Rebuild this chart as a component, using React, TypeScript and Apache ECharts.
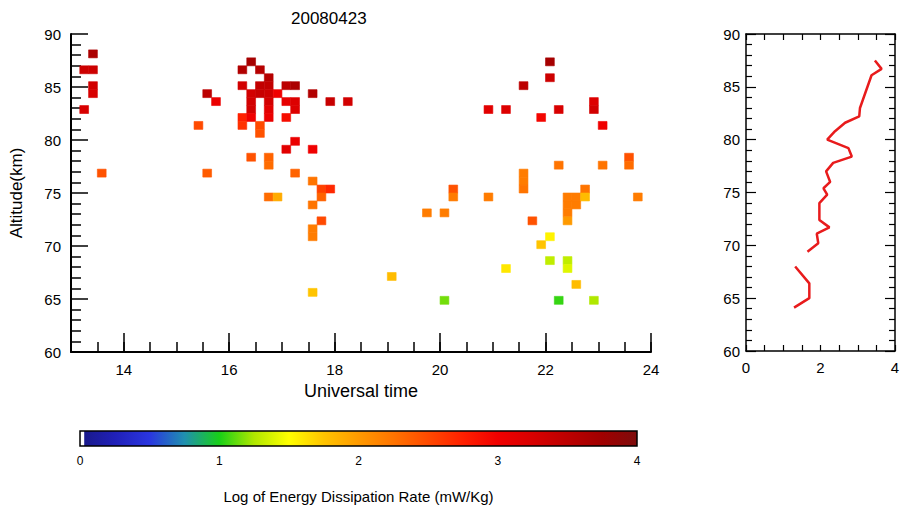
import React, { useEffect, useRef } from "react";
import * as echarts from "echarts";

const FONT = "'Liberation Sans', Arial, Helvetica, sans-serif";

// Turbulent energy dissipation cells, 10-min x 0.75-km bins:
// [UT bin centre (h), altitude bin centre (km), log10 eps (mW/kg)]
const cellsBefore19UT: [number, number, number][] = [
  [13.417, 88.125, 3.65],
  [13.25, 86.625, 3.35],
  [13.417, 86.625, 3.35],
  [13.417, 85.125, 3.3],
  [13.417, 84.375, 3.25],
  [13.25, 82.875, 3.25],
  [13.583, 76.875, 2.45],
  [15.417, 81.375, 2.5],
  [15.583, 84.375, 3.5],
  [15.75, 83.625, 3.05],
  [15.583, 76.875, 2.4],
  [16.417, 87.375, 3.7],
  [16.25, 86.625, 3.6],
  [16.583, 86.625, 3.55],
  [16.75, 85.875, 3.55],
  [16.25, 85.125, 3.3],
  [16.583, 85.125, 3.45],
  [16.75, 85.125, 3.45],
  [17.083, 85.125, 3.5],
  [17.25, 85.125, 3.65],
  [16.417, 84.375, 3.3],
  [16.583, 84.375, 3.4],
  [16.75, 84.375, 3.35],
  [16.917, 84.375, 3.0],
  [17.583, 84.375, 3.6],
  [16.417, 83.625, 3.3],
  [16.75, 83.625, 3.3],
  [17.083, 83.625, 3.1],
  [17.25, 83.625, 3.2],
  [17.917, 83.625, 3.4],
  [18.25, 83.625, 3.3],
  [16.417, 82.875, 3.3],
  [16.75, 82.875, 3.15],
  [17.25, 82.875, 3.2],
  [16.25, 82.125, 2.75],
  [16.417, 82.125, 3.0],
  [16.75, 82.125, 3.05],
  [17.083, 82.125, 2.9],
  [16.25, 81.375, 2.65],
  [16.583, 81.375, 2.5],
  [16.583, 80.625, 2.45],
  [17.25, 79.875, 3.05],
  [17.083, 79.125, 3.15],
  [17.583, 79.125, 3.0],
  [16.417, 78.375, 2.45],
  [16.75, 78.375, 2.35],
  [16.75, 77.625, 2.3],
  [17.25, 76.875, 2.35],
  [17.583, 76.125, 2.25],
  [17.75, 75.375, 2.55],
  [17.917, 75.375, 2.7],
  [17.75, 74.625, 2.35],
  [16.75, 74.625, 2.3],
  [16.917, 74.625, 1.9],
  [17.583, 73.875, 2.25],
  [17.75, 72.375, 2.5],
  [17.583, 71.625, 2.2],
  [17.583, 70.875, 2.2],
  [17.583, 65.625, 1.75],
];

const cellsAfter19UT: [number, number, number][] = [
  [19.083, 67.125, 1.8],
  [19.75, 73.125, 2.2],
  [20.083, 73.125, 2.2],
  [20.083, 64.875, 1.15],
  [20.25, 75.375, 2.45],
  [20.25, 74.625, 2.2],
  [20.917, 82.875, 3.15],
  [20.917, 74.625, 2.2],
  [21.25, 82.875, 3.2],
  [21.25, 67.875, 1.6],
  [21.583, 85.125, 3.5],
  [21.583, 76.875, 2.2],
  [21.583, 76.125, 2.2],
  [21.583, 75.375, 2.25],
  [21.75, 72.375, 2.45],
  [21.917, 82.125, 2.95],
  [21.917, 70.125, 1.75],
  [22.083, 87.375, 3.7],
  [22.083, 85.875, 3.35],
  [22.083, 70.875, 1.55],
  [22.083, 68.625, 1.3],
  [22.25, 82.875, 3.25],
  [22.25, 77.625, 2.25],
  [22.25, 64.875, 1.05],
  [22.417, 74.625, 2.2],
  [22.417, 73.875, 2.2],
  [22.417, 73.125, 2.2],
  [22.417, 72.375, 2.0],
  [22.417, 68.625, 1.3],
  [22.417, 67.875, 1.4],
  [22.583, 74.625, 2.2],
  [22.583, 73.875, 2.2],
  [22.583, 66.375, 1.8],
  [22.75, 75.375, 2.25],
  [22.75, 74.625, 1.8],
  [22.917, 83.625, 3.2],
  [22.917, 82.875, 3.3],
  [22.917, 64.875, 1.25],
  [23.083, 81.375, 3.0],
  [23.083, 77.625, 2.25],
  [23.583, 78.375, 2.45],
  [23.583, 77.625, 2.3],
  [23.75, 74.625, 2.2],
];

// Bin size of the cells
const BIN_HOURS = 1 / 6;
const BIN_KM = 0.75;

// Mean profile: [log10 eps, altitude km]
const profileUpper: [number, number][] = [
  [3.46, 87.5], [3.64, 86.7], [3.37, 86.1], [3.06, 83.0], [3.04, 82.2],
  [2.66, 81.6], [2.39, 80.8], [2.18, 80.0], [2.75, 79.2], [2.84, 78.4],
  [2.34, 77.8], [2.15, 77.0], [2.26, 76.0], [2.08, 75.4], [2.18, 74.8],
  [1.97, 74.0], [1.97, 72.4], [2.24, 71.7], [1.9, 71.1], [1.94, 70.2],
  [1.65, 69.4],
];
const profileLower: [number, number][] = [
  [1.32, 68.0], [1.7, 66.4], [1.7, 65.0], [1.29, 64.1],
];

const utLabels = [14, 16, 18, 20, 22, 24];
const profileLabels = [0, 2, 4];

// Colour table for log10 eps, evenly spaced from 0 to 4
const palette = [
  "#1a1a8c", "#2020b8", "#2a36e0", "#2090b0", "#18d018", "#b0e800",
  "#ffff00", "#ffc400", "#ff9a00", "#ff7400", "#ff4a00", "#ff2000",
  "#f00000", "#d80000", "#bc0000", "#a00000", "#7e0c0c",
];

const axisLineBlack = (w: number) => ({ show: true, lineStyle: { color: "#000", width: w } });
const labelStyle = (size: number, margin: number) => ({
  color: "#000",
  fontSize: size,
  fontFamily: FONT,
  margin,
});

export default function App() {
  const ref = useRef<HTMLDivElement>(null);

  useEffect(() => {
    if (!ref.current) return;
    const chart = echarts.init(ref.current, null, { renderer: "svg" });

    const cells = [...cellsBefore19UT, ...cellsAfter19UT];

    const barStops: { offset: number; color: string }[] = [
      { offset: 0, color: "#ffffff" },
      { offset: 0.008, color: "#ffffff" },
      { offset: 0.0081, color: palette[0] },
    ];
    palette.forEach((c, i) => {
      if (i > 0) barStops.push({ offset: i / (palette.length - 1), color: c });
    });

    chart.setOption({
      animation: false,
      backgroundColor: "#fff",
      title: {
        text: "20080423",
        left: 286,
        top: 5,
        textStyle: { fontSize: 17, fontWeight: "normal", color: "#000", fontFamily: FONT },
      },
      grid: [
        { left: 67, top: 34, width: 584, height: 318 },
        { left: 746, top: 34, width: 149, height: 317 },
        { left: 80, top: 431, width: 557, height: 15 },
      ],
      visualMap: {
        type: "continuous",
        show: false,
        min: 0,
        max: 4,
        dimension: 2,
        seriesIndex: 0,
        inRange: { color: palette },
      },
      xAxis: [
        {
          gridIndex: 0,
          type: "value",
          min: 13,
          max: 24,
          interval: 0.5,
          position: "bottom",
          axisLine: { ...axisLineBlack(2), onZero: false },
          axisTick: { inside: true, length: 10, lineStyle: { color: "#000", width: 1.5 } },
          axisLabel: { show: false },
          splitLine: { show: false },
        },
        {
          gridIndex: 0,
          type: "value",
          min: 13,
          max: 24,
          position: "bottom",
          axisLine: { show: false, onZero: false },
          axisTick: {
            inside: true,
            length: 19,
            customValues: utLabels,
            lineStyle: { color: "#000", width: 1.5 },
          },
          axisLabel: { ...labelStyle(15, 10), customValues: utLabels },
          splitLine: { show: false },
          name: "Universal time",
          nameLocation: "middle",
          nameGap: 30,
          nameTextStyle: { color: "#000", fontSize: 18, fontFamily: FONT },
        },
        {
          gridIndex: 1,
          type: "value",
          min: 0,
          max: 4,
          interval: 0.5,
          position: "bottom",
          axisLine: { ...axisLineBlack(1.5), onZero: false },
          axisTick: { inside: true, length: 6, lineStyle: { color: "#000", width: 1.2 } },
          axisLabel: { ...labelStyle(15, 9), customValues: profileLabels },
          splitLine: { show: false },
        },
        {
          gridIndex: 1,
          type: "value",
          min: 0,
          max: 4,
          interval: 0.5,
          position: "top",
          axisLine: { ...axisLineBlack(1.5), onZero: false },
          axisTick: { inside: true, length: 6, lineStyle: { color: "#000", width: 1.2 } },
          axisLabel: { show: false },
          splitLine: { show: false },
        },
        {
          gridIndex: 2,
          type: "value",
          min: 0,
          max: 4,
          interval: 1,
          position: "bottom",
          axisLine: { show: false },
          axisTick: { show: false },
          axisLabel: labelStyle(12, 9),
          splitLine: { show: false },
          name: "Log of Energy Dissipation Rate (mW/Kg)",
          nameLocation: "middle",
          nameGap: 43,
          nameTextStyle: { color: "#000", fontSize: 15, fontFamily: FONT },
        },
      ],
      yAxis: [
        {
          gridIndex: 0,
          type: "value",
          min: 60,
          max: 90,
          interval: 5,
          position: "left",
          axisLine: { ...axisLineBlack(2), onZero: false },
          axisTick: { inside: true, length: 17, lineStyle: { color: "#000", width: 1.5 } },
          minorTick: { show: true, splitNumber: 5, length: 10, lineStyle: { color: "#000", width: 1.5 } },
          axisLabel: labelStyle(15, 10),
          splitLine: { show: false },
          minorSplitLine: { show: false },
          name: "Altitude(km)",
          nameLocation: "middle",
          nameGap: 46,
          nameTextStyle: { color: "#000", fontSize: 17, fontFamily: FONT },
        },
        {
          gridIndex: 1,
          type: "value",
          min: 60,
          max: 90,
          interval: 5,
          position: "left",
          axisLine: { ...axisLineBlack(1.5), onZero: false },
          axisTick: { inside: true, length: 10, lineStyle: { color: "#000", width: 1.2 } },
          minorTick: { show: true, splitNumber: 5, length: 6, lineStyle: { color: "#000", width: 1.2 } },
          axisLabel: labelStyle(15, 6),
          splitLine: { show: false },
          minorSplitLine: { show: false },
        },
        {
          gridIndex: 1,
          type: "value",
          min: 60,
          max: 90,
          interval: 5,
          position: "right",
          axisLine: { ...axisLineBlack(1.5), onZero: false },
          axisTick: { inside: true, length: 10, lineStyle: { color: "#000", width: 1.2 } },
          minorTick: { show: true, splitNumber: 5, length: 6, lineStyle: { color: "#000", width: 1.2 } },
          axisLabel: { show: false },
          splitLine: { show: false },
          minorSplitLine: { show: false },
        },
        {
          gridIndex: 2,
          type: "value",
          min: 0,
          max: 1,
          show: false,
        },
      ],
      series: [
        {
          type: "custom",
          name: "cells",
          xAxisIndex: 0,
          yAxisIndex: 0,
          data: cells,
          encode: { x: 0, y: 1 },
          renderItem: (_params: any, api: any) => {
            const t = api.value(0);
            const h = api.value(1);
            const p0 = api.coord([t - BIN_HOURS / 2, h + BIN_KM / 2]);
            const p1 = api.coord([t + BIN_HOURS / 2, h - BIN_KM / 2]);
            const color = api.visual("color");
            return {
              type: "rect",
              shape: { x: p0[0], y: p0[1], width: p1[0] - p0[0], height: p1[1] - p0[1] },
              style: { fill: color, stroke: color, lineWidth: 0.6 },
            };
          },
        },
        {
          type: "line",
          xAxisIndex: 2,
          yAxisIndex: 1,
          data: profileUpper,
          symbol: "none",
          lineStyle: { color: "#e81b1c", width: 2.5 },
        },
        {
          type: "line",
          xAxisIndex: 2,
          yAxisIndex: 1,
          data: profileLower,
          symbol: "none",
          lineStyle: { color: "#e81b1c", width: 2.5 },
        },
        {
          type: "custom",
          name: "colorbar",
          xAxisIndex: 4,
          yAxisIndex: 3,
          data: [[0, 0]],
          renderItem: (_params: any, api: any) => {
            const p0 = api.coord([0, 1]);
            const p1 = api.coord([4, 0]);
            return {
              type: "rect",
              shape: { x: p0[0], y: p0[1], width: p1[0] - p0[0], height: p1[1] - p0[1] },
              style: {
                fill: new echarts.graphic.LinearGradient(0, 0, 1, 0, barStops),
                stroke: "#000",
                lineWidth: 1.5,
              },
            };
          },
        },
      ],
    });

    return () => chart.dispose();
  }, []);

  return (
    <div
      ref={ref}
      style={{ position: "fixed", left: 0, top: 0, width: 903, height: 510, background: "#fff" }}
    />
  );
}
